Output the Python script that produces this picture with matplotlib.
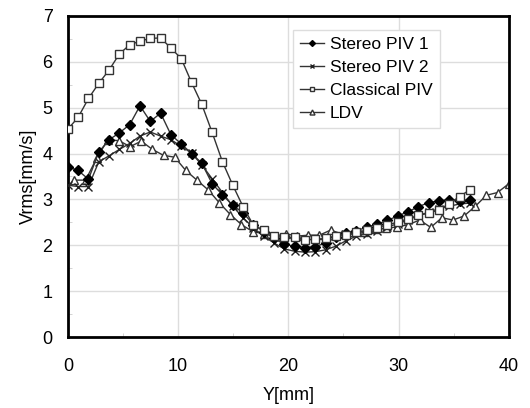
import numpy as np
import matplotlib
matplotlib.use("Agg")
import matplotlib.pyplot as plt
from matplotlib.ticker import MultipleLocator

plt.rcParams['font.family'] = ['Liberation Sans', 'DejaVu Sans']

# PIV 測点 (step ~0.935 mm), LDV 測点 (step ~1.01 mm)
y_piv = np.arange(40) * 0.935
y_ldv = 0.6 + np.arange(40) * 1.01

stereo1 = [3.71, 3.63, 3.44, 4.03, 4.30, 4.45, 4.63, 5.04, 4.70, 4.88,
           4.41, 4.21, 4.00, 3.79, 3.34, 3.10, 2.87, 2.71, 2.45, 2.30,
           2.15, 2.02, 1.98, 1.95, 1.97, 2.05, 2.17, 2.27, 2.32, 2.39,
           2.46, 2.54, 2.64, 2.73, 2.84, 2.93, 2.97, 2.99, 2.97, 2.99]
stereo2 = [3.31, 3.28, 3.28, 3.82, 3.95, 4.09, 4.22, 4.38, 4.47, 4.38,
           4.30, 4.16, 4.01, 3.75, 3.45, 3.15, 2.85, 2.60, 2.38, 2.20,
           2.05, 1.92, 1.87, 1.85, 1.86, 1.90, 1.98, 2.10, 2.20, 2.25,
           2.32, 2.40, 2.47, 2.55, 2.65, 2.72, 2.80, 2.85, 2.90, 2.92]
classical = [4.53, 4.79, 5.20, 5.53, 5.82, 6.17, 6.37, 6.45, 6.51, 6.52,
             6.30, 6.07, 5.55, 5.07, 4.46, 3.82, 3.31, 2.84, 2.44, 2.33,
             2.20, 2.17, 2.17, 2.12, 2.13, 2.15, 2.20, 2.22, 2.28, 2.33,
             2.38, 2.45, 2.50, 2.58, 2.65, 2.70, 2.77, 2.91, 3.06, 3.21]
ldv = [3.42, 3.42, 3.90, 4.30, 4.28, 4.15, 4.27, 4.09, 3.96, 3.92,
       3.63, 3.42, 3.21, 2.93, 2.67, 2.45, 2.30, 2.25, 2.20, 2.25,
       2.20, 2.22, 2.22, 2.33, 2.25, 2.28, 2.30, 2.35, 2.37, 2.40,
       2.45, 2.55, 2.39, 2.60, 2.55, 2.64, 2.85, 3.09, 3.15, 3.34]

fig = plt.figure(figsize=(5.3, 4.08), dpi=100)
ax = fig.add_axes([0.128, 0.174, 0.832, 0.787])

lc = '#333333'
ax.plot(y_piv, stereo1, color=lc, lw=1, marker='D', ms=5, mfc='black', mec='black',
        label='Stereo PIV 1', zorder=4)
ax.plot(y_piv, stereo2, color=lc, lw=1, marker='x', ms=6, mew=1, mec='#222222',
        label='Stereo PIV 2', zorder=3)
ax.plot(y_piv, classical, color=lc, lw=1, marker='s', ms=5.5, mfc='white', mec='#333333',
        label='Classical PIV', zorder=5)
ax.plot(y_ldv, ldv, color=lc, lw=1, marker='^', ms=6, mfc='white', mec='#333333',
        label='LDV', zorder=2)

ax.set_xlim(0, 40)
ax.set_ylim(0, 7)
ax.xaxis.set_major_locator(MultipleLocator(10))
ax.xaxis.set_minor_locator(MultipleLocator(5))
ax.yaxis.set_major_locator(MultipleLocator(1))
ax.yaxis.set_minor_locator(MultipleLocator(0.5))
ax.grid(True, which='major', color='#dddddd', lw=1)
ax.set_axisbelow(True)
ax.tick_params(which='major', length=0, labelsize=13)
ax.tick_params(axis='x', which='major', pad=15)
ax.tick_params(axis='y', which='major', pad=11)
ax.tick_params(which='minor', direction='in', length=3, color='#cccccc')
for s in ax.spines.values():
    s.set_linewidth(2)
    s.set_color('black')

ax.set_xlabel('Y[mm]', fontsize=13, labelpad=9)
ax.set_ylabel('Vrms[mm/s]', fontsize=13, labelpad=4)

leg = ax.legend(loc='upper left', bbox_to_anchor=(0.51, 0.957), fontsize=12.5,
                handlelength=1.4, markerscale=0.6, handletextpad=0.35,
                labelspacing=0.45, borderpad=0.4, borderaxespad=0.0,
                fancybox=False, framealpha=1)
leg.get_frame().set_edgecolor('#dddddd')
leg.get_frame().set_linewidth(1)

fig.savefig('out.png', dpi=100)
